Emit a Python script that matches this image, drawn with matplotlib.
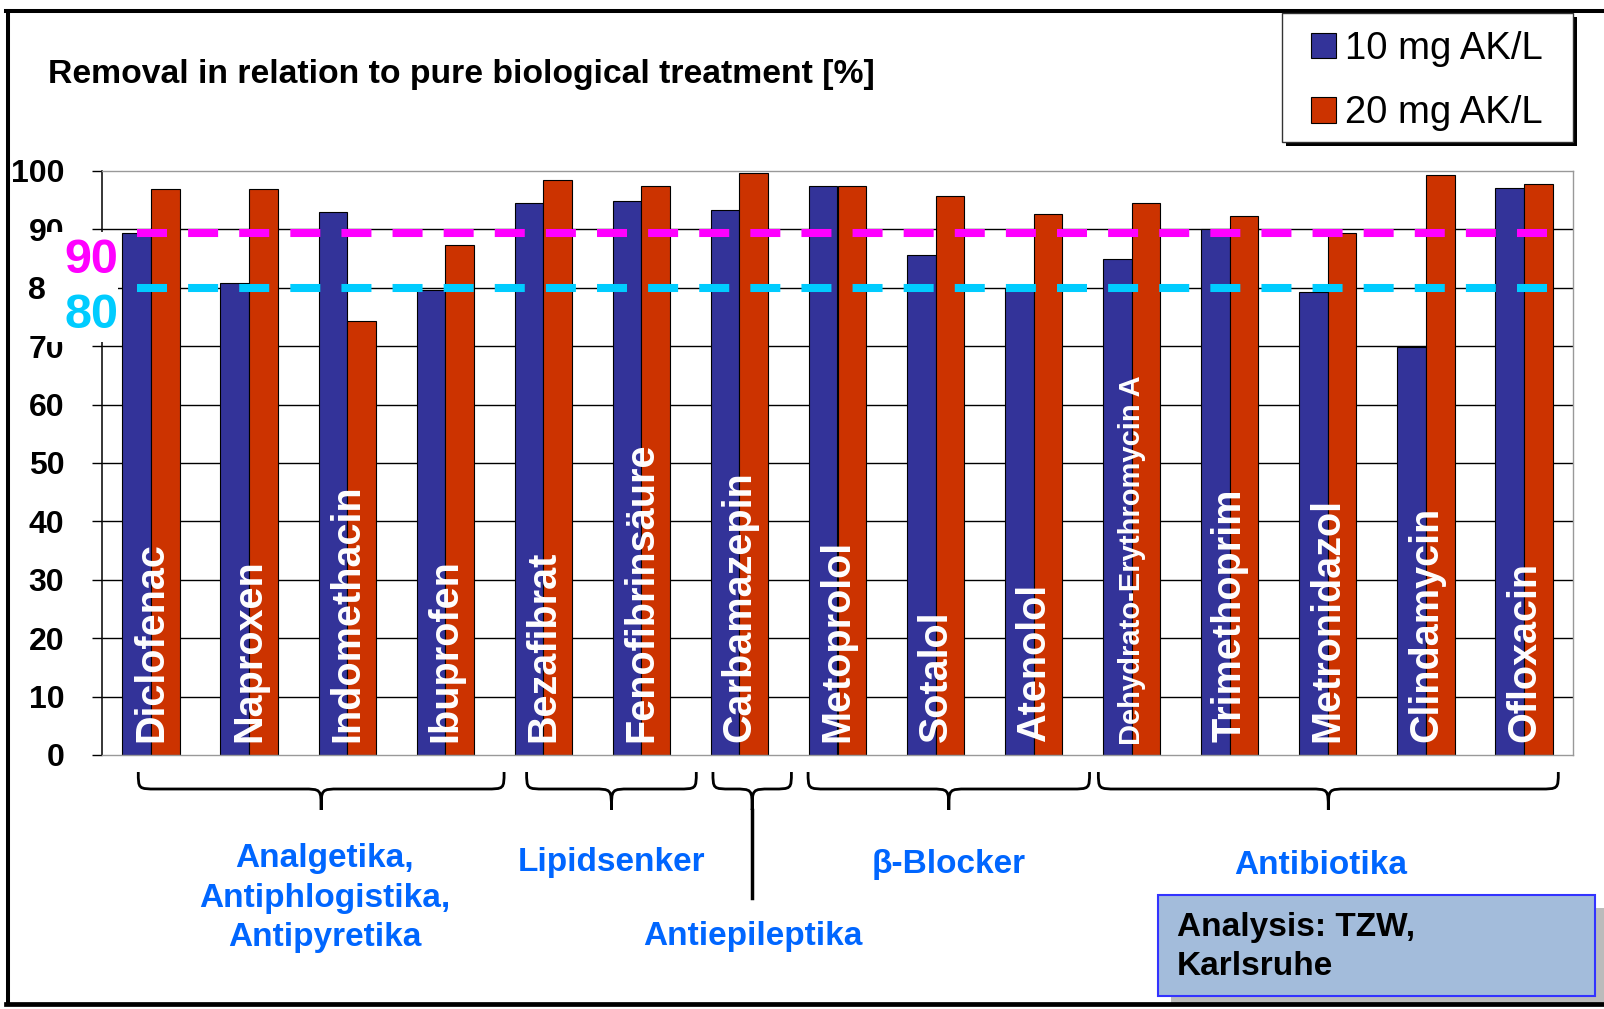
import numpy as np
import matplotlib.pyplot as plt
from matplotlib.patches import Rectangle, PathPatch
from matplotlib.path import Path
from matplotlib.lines import Line2D

plt.rcParams['font.family'] = ['Liberation Sans', 'DejaVu Sans']
plt.rcParams['lines.scale_dashes'] = False

# --- Data ---
compounds = ["Diclofenac", "Naproxen", "Indomethacin", "Ibuprofen", "Bezafibrat",
             "Fenofibrinsäure", "Carbamazepin", "Metoprolol", "Sotalol", "Atenolol",
             "Dehydrato-Erythromycin A", "Trimethoprim", "Metronidazol", "Clindamycin",
             "Ofloxacin"]
removal_10 = [89.4, 80.9, 92.9, 79.7, 94.6, 94.9, 93.4, 97.4, 85.7, 80.0,
              84.9, 90.0, 79.3, 69.9, 97.1]
removal_20 = [97.0, 97.0, 74.4, 87.4, 98.5, 97.4, 99.6, 97.4, 95.7, 92.6,
              94.6, 92.3, 89.4, 99.4, 97.7]
series_labels = ["10 mg AK/L", "20 mg AK/L"]
y_ticks = [0, 10, 20, 30, 40, 50, 60, 70, 80, 90, 100]

groups = ["Analgetika,\nAntiphlogistika,\nAntipyretika", "Lipidsenker",
          "Antiepileptika", "β-Blocker", "Antibiotika"]
group_span = [(-0.13, 3.60), (3.83, 5.56), (5.73, 6.53), (6.70, 9.57), (9.66, 14.35)]
group_label_x = [1.77, 4.70, 6.14, 8.13, 11.93]
group_label_y = [898, 863, 937, 865, 865]   # pixel rows

level_90 = 89.4
level_80 = 79.9

# --- Figure ---
W, H = 1604, 1009
fig = plt.figure(figsize=(W / 100, H / 100), dpi=100)

def fx(px):
    return px / W

def fy(py):
    return 1 - py / H

ax_top, ax_bot = 171, 755

def ay(py):
    # pixel row -> axes fraction
    return (ax_bot - py) / (ax_bot - ax_top)

ax = fig.add_axes([fx(102), fy(ax_bot), fx(1573) - fx(102), (ax_bot - ax_top) / H])

x = np.arange(len(compounds))
w = 0.292
blue = '#333399'
red = '#CC3300'
b1 = ax.bar(x - w / 2, removal_10, w, color=blue, edgecolor='black', lw=0.8, zorder=2)
b2 = ax.bar(x + w / 2, removal_20, w, color=red, edgecolor='black', lw=0.8, zorder=2)

ax.set_xlim(-0.5, len(compounds) - 0.5)
ax.set_ylim(0, 100)
ax.hlines(y_ticks[1:-1], -0.5, len(compounds) - 0.5, color='black', lw=1.0, zorder=1)

ax.set_xticks([])
ax.set_yticks(y_ticks)
ax.set_yticklabels([str(t) for t in y_ticks], fontsize=23, fontweight='bold')
ax.tick_params(axis='y', direction='out', length=7.2, width=1.0, pad=20)
for s in ['top', 'right', 'bottom']:
    ax.spines[s].set_color('#999999')
    ax.spines[s].set_linewidth(1.0)
ax.spines['left'].set_color('black')
ax.spines['left'].set_linewidth(1.1)

# compound names inside bars
for i, name in enumerate(compounds):
    small = len(name) > 16
    ax.text(i, 1.7 if small else 2.2, name, rotation=90, ha='center', va='bottom',
            color='white', fontweight='bold', fontsize=21 if small else 28.5, zorder=3)

# threshold lines
x0 = (137 - 102) / 1471
x1 = (1547 - 102) / 1471
ax.axhline(level_90, x0, x1, color='#FF00FF', lw=5.8, dashes=(21.6, 15.2),
           solid_capstyle='butt', dash_capstyle='butt', zorder=4)
ax.axhline(level_80, x0, x1, color='#00CCFF', lw=5.8, dashes=(21.6, 15.2),
           solid_capstyle='butt', dash_capstyle='butt', zorder=4)

# braces under the groups
tr = ax.get_xaxis_transform()
yt, ym, yb = ay(772), ay(789), ay(810)
r = 0.19
for (g0, g1), name, lx, ly in zip(group_span, groups, group_label_x, group_label_y):
    gm = (g0 + g1) / 2
    verts = [(g0, yt), (g0, ym), (g0, ym), (g0 + r, ym),
             (gm - r, ym),
             (gm, ym), (gm, ym), (gm, yb),
             (gm, ym), (gm, ym), (gm + r, ym),
             (g1 - r, ym),
             (g1, ym), (g1, ym), (g1, yt)]
    codes = [Path.MOVETO, Path.CURVE4, Path.CURVE4, Path.CURVE4,
             Path.LINETO,
             Path.CURVE4, Path.CURVE4, Path.CURVE4,
             Path.CURVE4, Path.CURVE4, Path.CURVE4,
             Path.LINETO,
             Path.CURVE4, Path.CURVE4, Path.CURVE4]
    ax.add_patch(PathPatch(Path(verts, codes), transform=tr, fill=False,
                           edgecolor='black', lw=2.0, clip_on=False))
    if name == "Antiepileptika":
        ax.add_line(Line2D([gm, gm], [yb, ay(898)], transform=tr, color='black',
                           lw=2.5, clip_on=False))
    ax.text(lx, ay(ly), name, transform=tr, ha='center', va='center',
            color='#0066FF', fontweight='bold', fontsize=24, linespacing=1.35)

# white patch over tick labels with the 90 / 80 markers
fig.patches.append(Rectangle((fx(46), fy(342)), fx(118) - fx(46), (342 - 232) / H,
                             transform=fig.transFigure, facecolor='white',
                             edgecolor='none', zorder=3))
fig.text(fx(91), fy(260), "90", color='#FF00FF', fontsize=35, fontweight='bold',
         ha='center', va='center', zorder=4)
fig.text(fx(91), fy(315), "80", color='#00CCFF', fontsize=35, fontweight='bold',
         ha='center', va='center', zorder=4)

# title
fig.text(fx(48), fy(75), "Removal in relation to pure biological treatment [%]",
         fontsize=24.3, fontweight='bold', ha='left', va='center')

# analysis box with shadow
fig.patches.append(Rectangle((fx(1171), fy(1004)), fx(1610) - fx(1171), (1004 - 908) / H,
                             transform=fig.transFigure, facecolor='#BBBBBB',
                             edgecolor='none', zorder=1))
fig.patches.append(Rectangle((fx(1158), fy(996)), fx(1595) - fx(1158), (996 - 895) / H,
                             transform=fig.transFigure, facecolor='#A3BCDB',
                             edgecolor='#3333FF', lw=1.5, zorder=2))
fig.text(fx(1177), fy(947), "Analysis: TZW,\nKarlsruhe", fontsize=24,
         fontweight='bold', ha='left', va='center', linespacing=1.3, zorder=3)

# outer border
for xs, ys, lw in [([6, 1604], [11, 11], 2.9), ([8, 8], [11, 1004], 2.9),
                   ([6, 1604], [1004, 1004], 3.4)]:
    fig.add_artist(Line2D([fx(v) for v in xs], [fy(v) for v in ys],
                          transform=fig.transFigure, color='black', lw=lw, zorder=4))

# legend box with black shadow
fig.patches.append(Rectangle((fx(1286), fy(146)), fx(1577) - fx(1286), (146 - 17) / H,
                             transform=fig.transFigure, facecolor='black',
                             edgecolor='none', zorder=5))
fig.patches.append(Rectangle((fx(1282), fy(142)), fx(1573) - fx(1282), (142 - 13) / H,
                             transform=fig.transFigure, facecolor='white',
                             edgecolor='#333333', lw=1.0, zorder=6))
leg = fig.legend([b1, b2], series_labels, loc='upper left',
                 bbox_to_anchor=(fx(1311), fy(31)), frameon=False, fontsize=27.5,
                 handlelength=0.65, handleheight=0.65, handletextpad=0.25,
                 labelspacing=0.74, borderpad=0, borderaxespad=0)
leg.set_zorder(7)

fig.savefig("out.png", dpi=100)
